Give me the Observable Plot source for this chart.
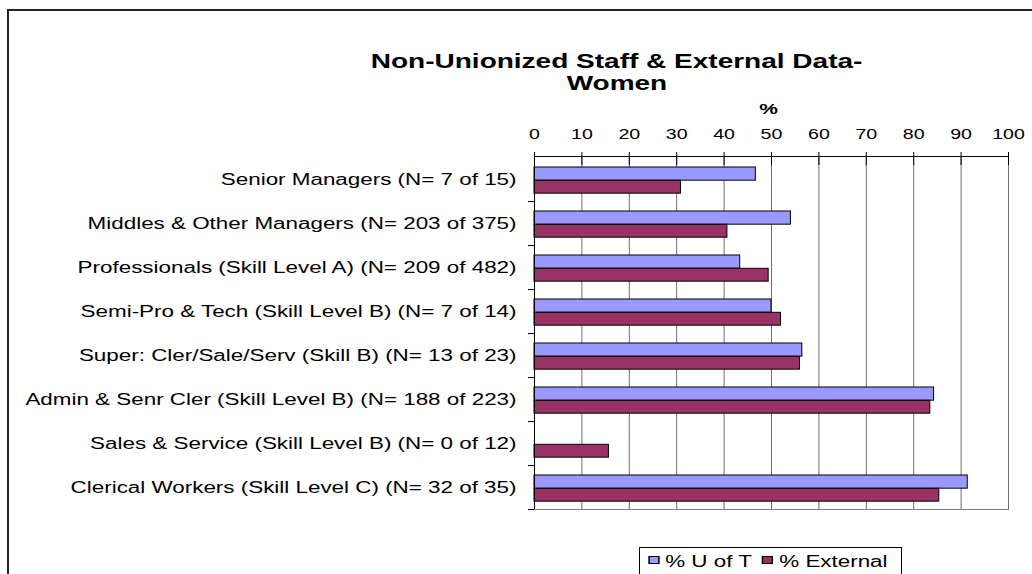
<!DOCTYPE html>
<html>
<head>
<meta charset="utf-8">
<script src="https://cdn.jsdelivr.net/npm/d3@7"></script>
<script src="https://cdn.jsdelivr.net/npm/@observablehq/plot@0.6"></script>
<style>
  body { margin: 0; background: #fff; font-family: "Liberation Sans", Arial, sans-serif; color: #000; }
  #wrap { position: relative; width: 1032px; height: 574px; overflow: hidden; background: #fff; }
  #chart { position: absolute; left: 0; top: 0; }
  #border { position: absolute; left: 7px; top: 9px; width: 1100px; height: 700px; border-left: 2px solid #222; border-top: 2px solid #222; }
  #title { position: absolute; left: 317px; width: 600px; top: 49.5px; text-align: center; font-weight: bold; font-size: 20px; line-height: 22.5px; }
  #title span { display: inline-block; transform: scaleX(1.4); transform-origin: 50% 50%; }
  #pct { position: absolute; left: 719px; width: 100px; top: 99.5px; text-align: center; font-weight: bold; font-size: 15px; line-height: 18px; }
  #legend { position: absolute; left: 639px; top: 547px; width: 261px; height: 40px; border: 1px solid #000; overflow: hidden; background: #fff; }
  #legend .inner { position: absolute; left: 0; top: 0; padding-left: 5.5px; padding-top: 2.5px; transform: scaleX(1.4); transform-origin: 0 0; white-space: nowrap; font-size: 16px; line-height: 22px; }
  #legend .sw { display: inline-block; width: 6px; height: 6px; border: 1px solid #000; margin-bottom: 2.5px; margin-right: 4.5px; }
  #legend .gap { display: inline-block; width: 7px; }
</style>
</head>
<body>
<div id="wrap">
  <div id="chart"></div>
  <div id="border"></div>
  <div id="title"></div>
  <div id="pct"></div>
  <div id="legend"><div class="inner"></div></div>
</div>
<script>
// ---- data ----
const categories = [
  "Senior Managers (N= 7 of 15)",
  "Middles & Other Managers (N= 203 of 375)",
  "Professionals (Skill Level A) (N= 209 of 482)",
  "Semi-Pro & Tech (Skill Level B) (N= 7 of 14)",
  "Super: Cler/Sale/Serv (Skill B) (N= 13 of 23)",
  "Admin & Senr Cler (Skill Level B) (N= 188 of 223)",
  "Sales & Service (Skill Level B) (N= 0 of 12)",
  "Clerical Workers (Skill Level C) (N= 32 of 35)"
];
const uOfT = [46.7, 54.1, 43.4, 50.0, 56.5, 84.3, 0, 91.4];
const external = [30.9, 40.7, 49.4, 52.0, 56.0, 83.5, 15.7, 85.4];
const seriesNames = ["% U of T", "% External"];
const seriesColors = ["#9999FF", "#993366"];
const xTicks = [0, 10, 20, 30, 40, 50, 60, 70, 80, 90, 100];
const titleLines = ["Non-Unionized Staff & External Data-", "Women"];
const axisLabel = "%";

// ---- table ----
const rowsU = categories.map((c, i) => ({category: c, series: seriesNames[0], value: uOfT[i]}));
const rowsE = categories.map((c, i) => ({category: c, series: seriesNames[1], value: external[i]}));

const H = 574, mt = 156, mb = 65;
const band = (H - mt - mb) / categories.length;

const chart = Plot.plot({
  width: 1032,
  height: H,
  marginLeft: 534,
  marginRight: 24,
  marginTop: mt,
  marginBottom: mb,
  style: {fontFamily: "Liberation Sans, Arial, sans-serif", fontSize: "16px", background: "white", color: "black"},
  x: {domain: [0, 100]},
  y: {domain: categories, padding: 0},
  color: {domain: seriesNames, range: seriesColors},
  marks: [
    Plot.gridX(xTicks.filter(d => d > 0), {stroke: "#6f6f6f", strokeOpacity: 1, strokeWidth: 1}),
    Plot.frame({anchor: "bottom", stroke: "#7f7f7f"}),
    Plot.barX(rowsU, {y: "category", x: "value", fill: "series", stroke: "black", strokeWidth: 1, insetTop: 10, insetBottom: band - 23.3}),
    Plot.barX(rowsE, {y: "category", x: "value", fill: "series", stroke: "black", strokeWidth: 1, insetTop: 23.3, insetBottom: band - 36.3}),
    Plot.ruleX([0], {stroke: "black", strokeWidth: 1}),
    Plot.frame({anchor: "top", stroke: "black"}),
    Plot.axisX(xTicks, {anchor: "top", tickSize: 5, tickPadding: 13, label: null, fontSize: 14}),
    Plot.axisX(xTicks, {anchor: "top", tickSize: -8, text: null, label: null}),
    Plot.axisY({anchor: "left", tickSize: 0, tickPadding: 18, label: null, fontSize: 16}),
    Plot.axisY({anchor: "left", tickSize: 6, text: null, label: null, dy: band / 2})
  ]
});
document.getElementById("chart").appendChild(chart);

// horizontally widen the lettering like the reference rendering
chart.querySelectorAll("text").forEach(t => {
  const w = t.getComputedTextLength();
  if (w > 0) {
    t.setAttribute("textLength", (w * 1.4).toFixed(1));
    t.setAttribute("lengthAdjust", "spacingAndGlyphs");
  }
});

// title
const title = document.getElementById("title");
titleLines.forEach(line => {
  const d = document.createElement("div");
  const s = document.createElement("span");
  s.textContent = line;
  d.appendChild(s);
  title.appendChild(d);
});
const pct = document.getElementById("pct");
const ps = document.createElement("span");
ps.style.display = "inline-block";
ps.style.transform = "scaleX(1.4)";
ps.textContent = axisLabel;
pct.appendChild(ps);

// legend
const inner = document.querySelector("#legend .inner");
seriesNames.forEach((name, i) => {
  if (i > 0) { const g = document.createElement("span"); g.className = "gap"; inner.appendChild(g); }
  const sw = document.createElement("span");
  sw.className = "sw";
  sw.style.background = seriesColors[i];
  inner.appendChild(sw);
  inner.appendChild(document.createTextNode(name));
});
</script>
</body>
</html>
